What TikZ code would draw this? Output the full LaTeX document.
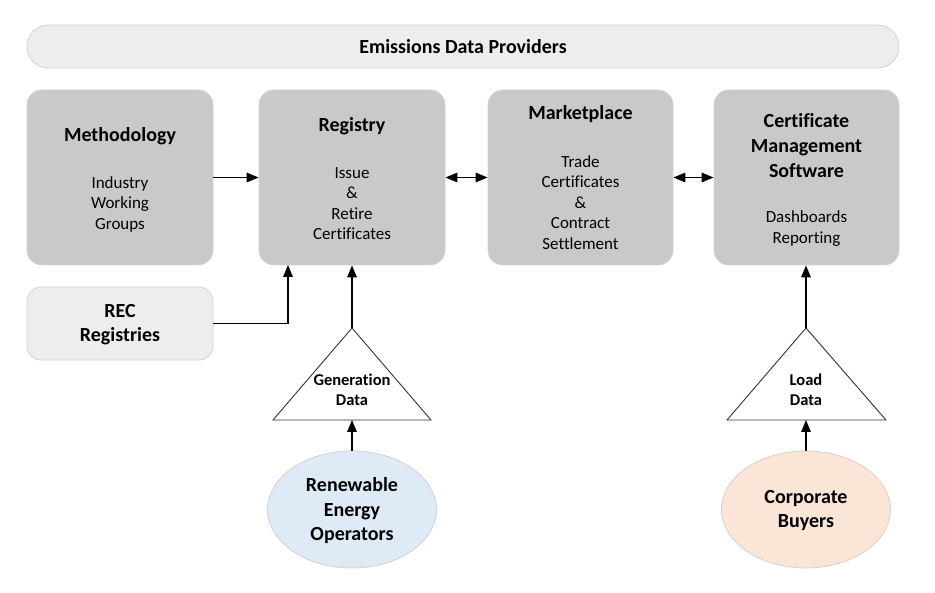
\documentclass[tikz,border=0pt]{standalone}
\usepackage{fontspec}
\setmainfont{Carlito}[Ligatures={NoCommon}]
\usetikzlibrary{arrows.meta,shapes.geometric}
\definecolor{boxgray}{HTML}{C9C9C9}
\definecolor{lightfill}{HTML}{EDEDED}
\definecolor{edgegray}{HTML}{D2D2D2}
\definecolor{bluefill}{HTML}{DEEBF7}
\definecolor{peachfill}{HTML}{FBE5D6}
\begin{document}
\begin{tikzpicture}[x=1pt,y=-1pt,
  mainbox/.style={draw=edgegray, line width=0.8pt, fill=boxgray, rounded corners=15pt, minimum width=186pt, minimum height=175pt, inner sep=0pt},
  lightbox/.style={draw=edgegray, line width=0.8pt, fill=lightfill, inner sep=0pt},
  ttl/.style={font=\fontsize{20}{25}\selectfont\bfseries, align=center, inner sep=0pt},
  bod/.style={font=\fontsize{17}{20.5}\selectfont, align=center, inner sep=0pt},
  tri/.style={draw=black!80, line width=0.9pt, fill=white},
  tritxt/.style={font=\fontsize{16.5}{20}\selectfont\bfseries, align=center, inner sep=0pt},
  oval/.style={ellipse, draw=edgegray, line width=0.8pt, minimum width=169pt, minimum height=117pt, inner sep=0pt},
  arr/.style={line width=1.6pt, -{Triangle[length=12pt,width=9.5pt]}},
  darr/.style={line width=1.6pt, {Triangle[length=12pt,width=9.5pt]}-{Triangle[length=12pt,width=9.5pt]}}
]
\useasboundingbox (0,0) rectangle (935,593);

% top bar
\node[lightbox, rounded corners=21.5pt, minimum width=872pt, minimum height=43pt] (edp) at (463,46.5) {};
\node[ttl] (edpT) at (463,47) {Emissions Data Providers};

% main boxes
\node[mainbox] (meth) at (120,177.5) {};
\node[mainbox] (reg) at (352,177.5) {};
\node[mainbox, minimum width=185pt] (mkt) at (580.5,177.5) {};
\node[mainbox, minimum width=185pt] (cms) at (806.5,177.5) {};

\node[ttl] (methT) at (120,136) {Methodology};
\node[bod] (methB) at (120,204) {Industry\\Working\\Groups};

\node[ttl] (regT) at (352,126) {Registry};
\node[bod] (regB) at (352,203.5) {Issue\\\&\\Retire\\Certificates};

\node[ttl] (mktT) at (580.5,114) {Marketplace};
\node[bod] (mktB) at (580.5,202.5) {Trade\\Certificates\\\&\\Contract\\Settlement};

\node[ttl] (cmsT) at (806.5,146) {Certificate\\Management\\Software};
\node[bod] (cmsB) at (806.5,228.5) {Dashboards\\Reporting};

% REC registries
\node[lightbox, rounded corners=14pt, minimum width=186pt, minimum height=73pt] (rec) at (120,323.5) {};
\node[ttl, font=\fontsize{20}{24}\selectfont\bfseries] (recT) at (120,325) {REC\\Registries};

% triangles
\draw[tri] (352,328) -- (431,420) -- (273,420) -- cycle;
\coordinate (genTop) at (352,328);
\coordinate (genBot) at (352,420);
\node[tritxt] (gen) at (352,390) {Generation\\Data};

\draw[tri] (806,328) -- (886,420) -- (727,420) -- cycle;
\coordinate (loadTop) at (806,328);
\coordinate (loadBot) at (806,420);
\node[tritxt] (load) at (806,390) {Load\\Data};

% ellipses
\node[oval, fill=bluefill] (reo) at (352,509.5) {};
\node[ttl, font=\fontsize{20}{24.5}\selectfont\bfseries] (reoT) at (352,511) {Renewable\\Energy\\Operators};
\node[oval, fill=peachfill] (cb) at (806,509.5) {};
\node[ttl, font=\fontsize{20}{24}\selectfont\bfseries] (cbT) at (806,511) {Corporate\\Buyers};

% connectors
\coordinate (regIn) at (288,265);
\draw[arr] (meth.east) -- (reg.west);
\draw[darr] (reg.east) -- (mkt.west);
\draw[darr] (mkt.east) -- (cms.west);
\draw[arr] (rec.east) -| (regIn);
\draw[arr] (genTop) -- (reg.south);
\draw[arr] (reo.north) -- (genBot);
\draw[arr] (loadTop) -- (cms.south -| loadTop);
\draw[arr] (cb.north) -- (loadBot);
\end{tikzpicture}
\end{document}
